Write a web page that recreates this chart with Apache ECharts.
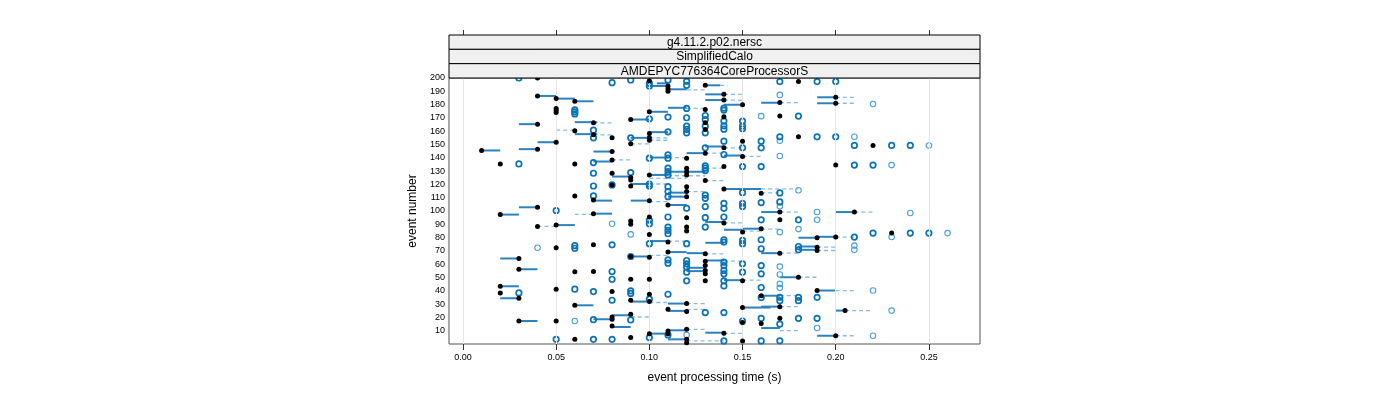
<!DOCTYPE html>
<html>
<head>
<meta charset="utf-8">
<script src="https://cdn.jsdelivr.net/npm/echarts@6/dist/echarts.min.js"></script>
<style>
html,body{margin:0;padding:0;background:#fff;}
#chart{width:1400px;height:400px;}
</style>
</head>
<body>
<div id="chart"></div>
<script>
// ---------- data (x = event processing time in s, y = event number) ----------
const stripLabels = ['g4.11.2.p02.nersc', 'SimplifiedCalo', 'AMDEPYC776364CoreProcessorS'];
const xTickValues = [0, 0.05, 0.10, 0.15, 0.20, 0.25];
const xTitle = 'event processing time (s)';
const yTitle = 'event number';

const blackDots = [
  [0.04,200],[0.04,186.5],[0.05,184.5],[0.06,182.5],[0.05,177],[0.05,175.5],[0.05,174],
  [0.04,165.3],[0.06,160.3],[0.05,151.7],[0.04,146.5],[0.01,145.5],[0.02,135.4],[0.06,135.4],
  [0.06,111.3],[0.04,102.8],[0.02,97.3],[0.05,89.4],[0.04,88.4],[0.05,72.4],[0.03,64.3],
  [0.03,56.2],[0.06,54.3],[0.02,43.4],[0.05,41.2],[0.02,38.4],[0.03,34.4],[0.06,29.1],
  [0.03,17.3],[0.05,17.3],[0.06,3.5],
  [0.10,198],[0.11,194],[0.11,192],[0.11,190],[0.13,194.5],[0.14,187.7],[0.14,183.4],[0.15,179.9],
  [0.13,176.4],[0.10,174.6],[0.09,168.8],[0.14,170.8],[0.07,166.3],[0.13,166.3],[0.13,161.3],
  [0.10,158.3],[0.07,157.3],[0.08,155],[0.10,155],[0.10,153.2],[0.15,152.5],
  [0.09,150.5],[0.08,144.7],[0.14,147.5],[0.13,143.5],[0.12,139.7],[0.15,141],[0.08,138.4],
  [0.14,133.4],[0.12,132.2],[0.12,129.6],[0.12,127.1],[0.08,128.4],[0.09,125.1],[0.09,123.4],
  [0.10,127.1],[0.13,122.9],[0.08,119.6],[0.09,118.8],[0.14,116.6],[0.16,113.3],[0.12,118.3],
  [0.12,114.6],[0.12,110.8],[0.07,108.3],[0.10,107.8],[0.11,104.5],
  [0.07,98],[0.12,95],[0.09,92.5],[0.09,90],[0.10,95.5],[0.12,87.9],[0.12,84.9],[0.14,91],
  [0.15,84.2],[0.16,86.7],[0.10,82.4],[0.07,74.6],[0.11,76.6],[0.11,69.1],[0.13,67.8],[0.09,65.8],
  [0.10,65.3],[0.13,62.3],[0.13,59],[0.13,55.3],[0.13,52.8],[0.07,54.5],
  [0.09,48.7],[0.10,48.7],[0.13,47.5],[0.15,47.5],[0.08,39.4],[0.10,37.4],[0.16,36.2],[0.09,32.9],
  [0.10,31.9],[0.12,30.4],[0.11,26.1],[0.12,24.4],[0.15,27.4],[0.09,22.4],[0.08,20.3],[0.08,18.6],
  [0.15,16.1],[0.08,13.6],[0.12,11],[0.11,9.8],[0.11,7.8],[0.10,7.8],[0.14,8],[0.09,4.8],
  [0.12,3.5],[0.12,1],[0.15,2.3],
  [0.18,197.3],[0.20,185.5],[0.17,181.5],[0.20,181],[0.17,171.4],[0.18,155.8],[0.22,149.3],
  [0.20,134.5],[0.17,99.2],[0.21,99.2],[0.17,93.4],[0.23,83.4],[0.19,79.9],[0.20,80.4],
  [0.19,72.8],[0.19,70.3],[0.17,68.3],[0.18,50.2],[0.19,40.2],[0.17,28.1],[0.205,25.1],
  [0.17,19.3],[0.16,15.5],[0.20,6.2]
];

const darkCircles = [
  [0.03,200],[0.06,176],[0.06,174.5],[0.06,173],[0.03,135.4],[0.05,100.3],[0.06,74],[0.06,72],
  [0.06,41.2],[0.03,38.4],[0.05,3.5],
  [0.08,196.5],[0.09,198.5],[0.10,196],[0.10,194],[0.11,198.5],[0.12,197.5],[0.12,194.5],
  [0.14,177.4],[0.14,175.9],[0.12,177.1],[0.13,171.8],[0.13,168.8],[0.13,163.8],[0.13,158.8],
  [0.11,170.6],[0.12,170.1],[0.10,169.3],[0.14,167.6],[0.14,164],[0.14,161.5],[0.15,167.6],
  [0.15,163.8],[0.15,161.8],[0.12,163.8],[0.12,161.3],[0.12,158.8],[0.07,160.8],[0.11,159.5],
  [0.07,155],[0.09,155],[0.14,152.5],[0.16,152.5],
  [0.13,147.5],[0.15,147.5],[0.16,147.5],[0.14,142.5],[0.10,139.7],[0.11,142.2],[0.11,139.7],
  [0.07,136.4],[0.13,133.9],[0.13,132.2],[0.13,130.4],[0.15,133.4],[0.16,133.4],[0.11,132.2],
  [0.11,129.6],[0.11,127.1],[0.07,128.4],[0.09,128.9],[0.07,118.8],[0.08,119.6],[0.10,120.3],
  [0.10,118.8],[0.15,113.8],[0.11,118.3],[0.11,114.6],[0.11,110.8],[0.13,112],[0.13,109.5],
  [0.07,111.3],[0.12,102],[0.13,103.3],[0.14,105.8],[0.14,102],[0.15,105.8],[0.15,103.3],[0.16,106.3],
  [0.11,95.5],[0.13,95],[0.14,95.5],[0.10,93],[0.10,90.4],[0.11,87.9],[0.11,85.4],[0.11,82.9],
  [0.13,87.9],[0.08,74.6],[0.10,75.4],[0.12,75.4],[0.14,78.4],[0.14,76.6],[0.15,77.9],[0.15,75.4],
  [0.16,78.4],[0.16,71.6],[0.09,65.8],[0.11,63.3],[0.11,60.8],[0.12,62.8],[0.12,60.3],[0.12,57.8],
  [0.12,54],[0.14,61.5],[0.14,59],[0.14,55.3],[0.14,52.8],[0.15,60.3],[0.15,54],[0.16,59],
  [0.16,52.8],[0.08,54.5],
  [0.08,48.7],[0.12,47.5],[0.14,47.5],[0.14,43.7],[0.07,39.4],[0.09,40],[0.09,38],[0.11,37.4],
  [0.16,42.5],[0.16,34.9],[0.08,32.9],[0.10,33.7],[0.13,23.6],[0.14,23.6],[0.07,18.3],[0.09,18.1],
  [0.15,17.3],[0.11,6.8],[0.07,3.5],[0.08,3.5],[0.10,4.8],[0.14,2.3],[0.16,2.3],
  [0.17,197.3],[0.19,197.3],[0.20,197.3],[0.18,171.4],[0.17,155.8],[0.19,155.8],[0.20,155.8],
  [0.21,149.3],[0.23,149.3],[0.24,149.3],[0.21,134.5],[0.22,134.5],[0.17,113.6],[0.17,106.8],
  [0.16,93.4],[0.18,93.4],[0.22,83.4],[0.24,83.4],[0.25,83.4],[0.21,80.4],[0.18,73.3],[0.18,70.8],
  [0.17,35.1],[0.17,32.6],[0.18,35.1],[0.18,32.6],[0.19,35.1],[0.16,19.3],[0.18,19.3],[0.19,19.3],
  [0.17,15],[0.17,2.4]
];

const lightCircles = [
  [0.04,72.4],[0.06,17.3],[0.16,171.3],[0.08,90.4],[0.09,82.4],[0.12,6.8],
  [0.17,187.3],[0.22,180.5],[0.17,152.8],[0.21,155.8],[0.25,149.3],[0.17,141.3],[0.23,134.5],
  [0.18,115.6],[0.17,103.6],[0.19,99.2],[0.24,98.5],[0.19,93.4],[0.17,84.1],[0.18,86.4],
  [0.26,83.4],[0.23,80.4],[0.21,74],[0.21,70.8],[0.17,58.2],[0.17,52.2],[0.17,45.2],[0.17,42.2],
  [0.22,40.2],[0.23,25.1],[0.19,12],[0.22,6.2]
];

// [x start, x end, event]
const solidSegs = [
  [0.04,0.05,186.5],[0.05,0.06,184.5],[0.06,0.07,182.5],[0.06,0.072,166.8],[0.03,0.04,165.3],
  [0.06,0.072,157.8],[0.04,0.05,151.7],[0.03,0.04,146.5],[0.01,0.02,145.5],[0.03,0.04,102.8],
  [0.02,0.03,97.3],[0.05,0.06,89.4],[0.02,0.03,64.3],[0.03,0.04,56.2],[0.02,0.03,43.4],
  [0.02,0.03,34.4],[0.06,0.07,29.1],[0.03,0.04,17.3],
  [0.104,0.11,196],[0.10,0.11,194],[0.13,0.138,194.5],[0.11,0.12,191.5],[0.13,0.14,187.7],
  [0.13,0.14,183.4],[0.14,0.15,179.9],[0.16,0.17,181.4],[0.11,0.12,177.6],[0.10,0.11,174.6],
  [0.09,0.10,168.8],[0.10,0.11,159.3],[0.09,0.10,155],
  [0.07,0.08,144.7],[0.13,0.14,148.5],[0.12,0.13,143.5],[0.10,0.11,140.2],[0.14,0.15,141.7],
  [0.07,0.08,137.2],[0.11,0.13,129.6],[0.08,0.09,125.9],[0.10,0.11,127.1],[0.09,0.10,120.3],
  [0.14,0.16,116.6],[0.11,0.12,113.8],[0.11,0.12,110.8],[0.07,0.08,107.8],[0.09,0.10,107.8],
  [0.11,0.12,104.5],
  [0.07,0.08,98],[0.13,0.14,91.7],[0.14,0.15,85.9],[0.15,0.16,86.7],[0.10,0.11,77.4],
  [0.13,0.14,76.1],[0.11,0.12,69.1],[0.12,0.13,68.3],[0.09,0.10,65.8],[0.13,0.14,62.8],
  [0.12,0.13,57.3],[0.12,0.13,54.8],
  [0.14,0.15,48],[0.09,0.10,31.9],[0.11,0.12,30.4],[0.11,0.12,24.9],[0.15,0.165,27.4],
  [0.08,0.09,21.6],[0.07,0.08,18.6],[0.08,0.09,12.8],[0.11,0.12,10.3],[0.10,0.11,7.8],
  [0.13,0.14,8.5],[0.11,0.12,3.5],
  [0.19,0.20,185.5],[0.19,0.20,181],[0.16,0.17,99.2],[0.20,0.21,99.2],[0.18,0.19,79.9],
  [0.19,0.20,80.6],[0.18,0.19,73.3],[0.18,0.19,70.8],[0.16,0.17,68.3],[0.17,0.18,50.2],
  [0.19,0.20,40.2],[0.16,0.17,36.3],[0.16,0.17,28.1],[0.20,0.205,25.1],[0.16,0.17,12],
  [0.19,0.20,6.2]
];

const dashedSegs = [
  [0.05,0.06,160.8],[0.04,0.05,88.4],[0.06,0.07,97.5],
  [0.138,0.142,194.5],[0.12,0.13,191],[0.14,0.15,187.7],[0.14,0.15,183.4],[0.12,0.13,177.1],
  [0.07,0.08,166.3],[0.07,0.08,157.3],[0.10,0.11,155],[0.10,0.11,153.2],
  [0.09,0.10,150.5],[0.14,0.15,147.5],[0.13,0.14,143.5],[0.11,0.12,140.2],[0.15,0.16,141],
  [0.08,0.09,138.4],[0.13,0.14,132.2],[0.11,0.13,126.5],[0.10,0.12,124.5],[0.13,0.14,122.9],
  [0.10,0.11,120.3],[0.16,0.18,116.6],[0.12,0.13,114.6],[0.10,0.11,107],
  [0.14,0.15,91],[0.15,0.16,84.9],[0.11,0.12,77.4],[0.13,0.14,67.8],[0.10,0.11,66.6],
  [0.14,0.15,62.3],
  [0.15,0.16,48],[0.10,0.11,31.2],[0.12,0.13,30.4],[0.12,0.13,26.1],[0.09,0.10,20.3],
  [0.12,0.13,11],[0.14,0.15,8],[0.12,0.14,2.3],
  [0.20,0.21,185.5],[0.17,0.18,181.5],[0.20,0.21,181],[0.16,0.17,113.6],[0.17,0.18,99.2],
  [0.21,0.22,99.2],[0.16,0.17,86.4],[0.20,0.21,80.4],[0.19,0.20,72.8],[0.19,0.20,70.3],
  [0.17,0.18,68.3],[0.18,0.19,50.2],[0.20,0.21,40.2],[0.17,0.18,36.3],[0.17,0.18,28.1],
  [0.205,0.22,25.1],[0.17,0.18,10],[0.20,0.21,6.2]
];

// ---------- layout ----------
const G = {left: 449, top: 78, right: 420, bottom: 56};
const plotW = 1400 - G.left - G.right;
const stripTop = 35, stripH = (G.top - stripTop) / stripLabels.length;
const FONT = '"Liberation Sans", Arial, sans-serif';

function segRenderer(color, width, dash) {
  return function (params, api) {
    const p1 = api.coord([api.value(0), api.value(2)]);
    const p2 = api.coord([api.value(1), api.value(2)]);
    return {
      type: 'line',
      shape: {x1: p1[0], y1: p1[1], x2: p2[0], y2: p2[1]},
      style: {stroke: color, lineWidth: width, lineDash: dash || null}
    };
  };
}

const graphics = [];
stripLabels.forEach((t, i) => {
  graphics.push({
    type: 'rect', z: 100,
    shape: {x: G.left, y: stripTop + i * stripH, width: plotW, height: stripH},
    style: {fill: '#f0f0f0', stroke: '#000', lineWidth: 1}
  });
  graphics.push({
    type: 'text', z: 101,
    x: G.left + plotW / 2, y: stripTop + i * stripH + stripH / 2 + 0.5,
    style: {text: t, fill: '#000', font: '12px ' + FONT, align: 'center', verticalAlign: 'middle'}
  });
});
graphics.push({
  type: 'text', z: 101, x: G.left + plotW / 2 + 0, y: 378,
  style: {text: xTitle, fill: '#000', font: '12px ' + FONT, align: 'center', verticalAlign: 'middle'}
});
graphics.push({
  type: 'text', z: 101, x: 413, y: 211, rotation: Math.PI / 2,
  style: {text: yTitle, fill: '#000', font: '12px ' + FONT, align: 'center', verticalAlign: 'middle'}
});

const xMin = -0.0075, xMax = 0.2774;

const option = {
  animation: false,
  backgroundColor: '#fff',
  grid: {left: G.left, top: G.top, right: G.right, bottom: G.bottom, show: true,
         borderColor: '#555', borderWidth: 1, backgroundColor: 'transparent'},
  xAxis: [{
    type: 'value', min: xMin, max: xMax, position: 'bottom',
    axisLine: {show: false},
    splitLine: {show: false},
    axisTick: {show: true, length: 6, customValues: xTickValues, lineStyle: {color: '#333'}},
    axisLabel: {customValues: xTickValues, margin: 9, color: '#000', fontSize: 9, fontFamily: FONT,
                formatter: v => v.toFixed(2)}
  }, {
    type: 'value', min: xMin, max: xMax, position: 'top', offset: G.top - stripTop,
    axisLine: {show: false},
    splitLine: {show: false},
    axisTick: {show: true, length: 5, customValues: xTickValues, lineStyle: {color: '#333'}},
    axisLabel: {show: false, customValues: xTickValues}
  }],
  yAxis: {
    type: 'value', min: 0, max: 200, interval: 10,
    axisLine: {show: false}, axisTick: {show: false}, splitLine: {show: false},
    axisLabel: {margin: 4, color: '#000', fontSize: 9, fontFamily: FONT,
                formatter: v => (v === 0 ? '' : String(v))}
  },
  graphic: graphics,
  series: [
    {
      type: 'line', data: [], z: 0, silent: true,
      markLine: {silent: true, symbol: ['none', 'none'], label: {show: false},
                 lineStyle: {color: '#e6e6e6', type: 'solid', width: 1},
                 data: xTickValues.map(v => ({xAxis: v}))}
    },
    {type: 'custom', data: dashedSegs, encode: {x: [0, 1], y: 2}, z: 1,
     renderItem: segRenderer('#86bde2', 1.3, [4, 3])},
    {type: 'custom', data: solidSegs, encode: {x: [0, 1], y: 2}, z: 2,
     renderItem: segRenderer('#2a82c2', 2)},
    {type: 'scatter', data: lightCircles, symbol: 'circle', symbolSize: 5.5, z: 3,
     itemStyle: {color: 'rgba(255,255,255,0)', borderColor: '#4a9fd6', borderWidth: 1.1, opacity: 1}},
    {type: 'scatter', data: darkCircles, symbol: 'circle', symbolSize: 5.5, z: 4,
     itemStyle: {color: 'rgba(255,255,255,0)', borderColor: '#0a72b5', borderWidth: 1.7, opacity: 1}},
    {type: 'scatter', data: blackDots, symbol: 'circle', symbolSize: 5, z: 5,
     itemStyle: {color: '#000', opacity: 1}}
  ]
};

echarts.init(document.getElementById('chart'), null, {renderer: 'canvas'}).setOption(option);
</script>
</body>
</html>
